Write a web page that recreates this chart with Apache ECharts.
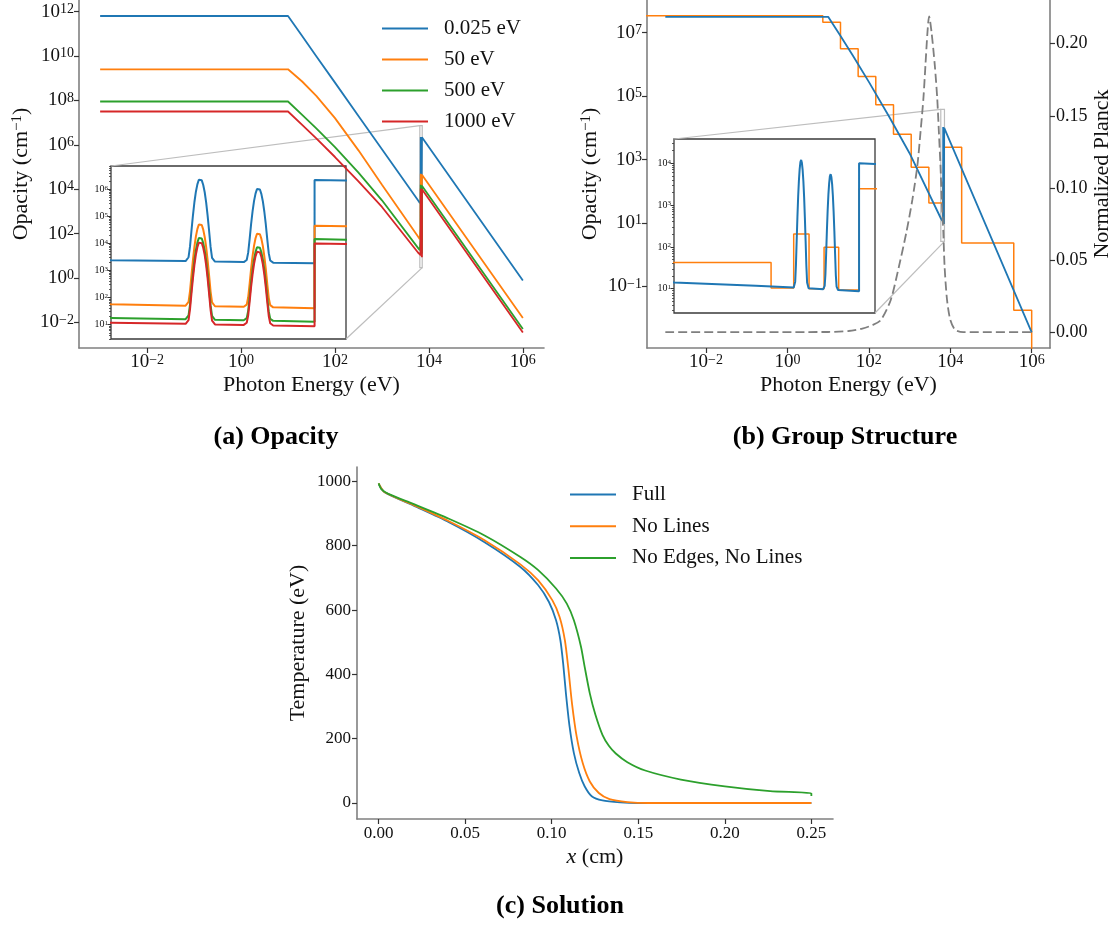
<!DOCTYPE html>
<html>
<head>
<meta charset="utf-8">
<script src="https://cdn.jsdelivr.net/npm/echarts@6/dist/echarts.min.js"></script>
<style>
  html, body { margin: 0; padding: 0; background: #fff; }
  #chart { width: 1116px; height: 926px; }
</style>
</head>
<body>
<div id="chart"></div>
<script>
// ---------------------------------------------------------------------------
// Data
// ---------------------------------------------------------------------------

// Photon energy grid (eV) shared by the four material opacities.
// The dense part around 6.6–7.2 keV resolves the two bound-bound lines
// and the absorption edge.
const energy = [
  0.001, 10, 20, 40, 100, 316, 1000, 5850, 6400,
  6654, 6664, 6669, 6674, 6679, 6684, 6689, 6694, 6699, 6704,
  6709, 6714, 6719, 6724, 6729, 6734, 6739, 6744, 6754,
  6852, 6862, 6867, 6872, 6877, 6882, 6887, 6892, 6897, 6902,
  6907, 6912, 6917, 6922, 6927, 6932, 6937, 6942, 6952,
  7093, 7093, 7200, 1e6
];

// log10 of opacity (cm^-1) at each material temperature
const kappa0025 = [
  11.8, 11.8, 10.9, 9.99, 8.8, 7.3, 5.8, 3.50, 3.38,
  3.35, 3.49, 3.89, 4.48, 5.04, 5.53, 5.91, 6.18, 6.35, 6.40,
  6.33, 6.16, 5.89, 5.51, 5.02, 4.46, 3.87, 3.47, 3.33,
  3.31, 3.39, 3.66, 4.17, 4.72, 5.19, 5.57, 5.84, 6.01, 6.06,
  5.99, 5.82, 5.55, 5.17, 4.70, 4.15, 3.64, 3.37, 3.29,
  3.27, 6.34, 6.32, -0.11
];
const kappa50 = [
  9.4, 9.4, 8.85, 8.2, 7.2, 5.75, 4.2, 1.87, 1.75,
  1.70, 1.84, 2.24, 2.83, 3.39, 3.88, 4.26, 4.53, 4.70, 4.75,
  4.68, 4.51, 4.24, 3.86, 3.37, 2.81, 2.22, 1.82, 1.68,
  1.66, 1.74, 2.01, 2.52, 3.07, 3.54, 3.92, 4.19, 4.36, 4.41,
  4.34, 4.17, 3.90, 3.52, 3.05, 2.50, 1.99, 1.72, 1.64,
  1.61, 4.65, 4.63, -1.80
];
const kappa500 = [
  7.95, 7.95, 7.35, 6.74, 5.9, 4.75, 3.5, 1.36, 1.25,
  1.20, 1.34, 1.74, 2.33, 2.89, 3.38, 3.76, 4.03, 4.20, 4.25,
  4.18, 4.01, 3.74, 3.36, 2.87, 2.31, 1.72, 1.32, 1.18,
  1.16, 1.24, 1.51, 2.02, 2.57, 3.04, 3.42, 3.69, 3.86, 3.91,
  3.84, 3.67, 3.40, 3.02, 2.55, 2.00, 1.49, 1.22, 1.14,
  1.11, 4.16, 4.14, -2.29
];
const kappa1000 = [
  7.5, 7.5, 6.9, 6.29, 5.45, 4.35, 3.2, 1.15, 1.07,
  1.03, 1.17, 1.57, 2.16, 2.72, 3.21, 3.59, 3.86, 4.03, 4.08,
  4.01, 3.84, 3.57, 3.19, 2.70, 2.14, 1.55, 1.15, 1.01,
  0.99, 1.07, 1.34, 1.85, 2.40, 2.87, 3.25, 3.52, 3.69, 3.74,
  3.67, 3.50, 3.23, 2.85, 2.38, 1.83, 1.32, 1.05, 0.97,
  0.94, 4.00, 3.98, -2.45
];

// Multigroup structure: group edges (eV) and log10 group-averaged opacity.
// The first group starts at zero energy and nothing is kept above 1 MeV.
const groupEdges = [1e-5, 7.4, 20.1, 54.6, 148, 403, 1097, 2981, 6502, 6654,
                    6757, 6858, 6956, 7093, 19055, 363078, 1e6];
const groupKappa = [7.53, 7.33, 6.49, 5.62, 4.73, 3.80, 2.76, 1.63, 1.02, 2.31,
                    1.00, 1.99, 0.97, 3.39, 0.37, -1.75];
const zeroOpacityFloor = -5;   // log10 floor used for the empty range above 1 MeV

// Normalized Planck spectrum at 1 keV
const planckE = [0.001, 10, 31.6, 69, 126, 200, 347, 550, 832, 1175, 1549, 1862, 2188, 2455,
                 2754, 3020, 3467, 4169, 4786, 5248, 5754, 6166, 6761, 7244, 8318, 10000,
                 13183, 20893, 1e6];
const planckVal = [0, 0.0001, 0.0008, 0.0025, 0.005, 0.0086, 0.0225, 0.0457, 0.069, 0.092,
                   0.115, 0.139, 0.162, 0.185, 0.208, 0.219, 0.208, 0.185, 0.162, 0.139,
                   0.115, 0.092, 0.069, 0.0457, 0.0225, 0.0086, 0.0016, 0, 0];

// Temperature profiles, x (cm) and T (eV)
const xFull = [0, 0.0035, 0.02, 0.0406, 0.0612, 0.0819, 0.0922, 0.0984, 0.1025, 0.105,
               0.1066, 0.1082, 0.1103, 0.1128, 0.1159, 0.119, 0.1231, 0.1293, 0.1396, 0.15, 0.25];
const tFull = [992, 966, 925, 873, 811, 734, 677, 625, 568, 506,
               434, 341, 238, 155, 93, 52, 21, 8, 2, 0, 0];
const xNoLines = [0, 0.0035, 0.02, 0.0406, 0.0612, 0.0819, 0.0922, 0.1004, 0.1045, 0.1076,
                  0.1097, 0.1117, 0.1144, 0.1179, 0.122, 0.1272, 0.1334, 0.1437, 0.156, 0.25];
const tNoLines = [994, 966, 927, 876, 817, 742, 692, 630, 579, 506,
                  413, 310, 207, 124, 67, 31, 12, 3, 0, 0];
const xNoEdges = [0, 0.0014, 0.0056, 0.02, 0.0406, 0.0612, 0.0819, 0.0922, 0.1025, 0.1087,
                  0.1128, 0.1169, 0.119, 0.122, 0.1252, 0.1293, 0.133, 0.137, 0.1437, 0.154,
                  0.1746, 0.2, 0.2262, 0.25, 0.25];
const tNoEdges = [994, 977, 961, 930, 884, 832, 765, 724, 667, 620,
                  568, 486, 424, 341, 275, 212, 178, 154, 127, 101,
                  73, 52, 37, 30, 22];

// Tick positions
const opacityDecadeTicksA = [-2, 0, 2, 4, 6, 8, 10, 12];
const opacityDecadeTicksB = [-1, 1, 3, 5, 7];
const energyDecadeTicks = [-2, 0, 2, 4, 6];
const insetTicksA = [1, 2, 3, 4, 5, 6];
const insetTicksB = [1, 2, 3, 4];
const planckTicks = [0, 0.05, 0.10, 0.15, 0.20];
const xTicksC = [0, 0.05, 0.10, 0.15, 0.20, 0.25];
const tTicksC = [0, 200, 400, 600, 800, 1000];

// ---------------------------------------------------------------------------
// Styling and layout
// ---------------------------------------------------------------------------
const SERIF = '"Liberation Serif", "Times New Roman", Times, serif';
const INK = '#111';
const SPINE = '#808080';
const COL = {
  blue: '#1f77b4', orange: '#ff7f0e', green: '#2ca02c', red: '#d62728',
  gray: '#7f7f7f', frame: '#3a3a3a', zoom: '#bdbdbd'
};

const L = {
  a:      { left: 79,  top: 0,   width: 465, height: 348 },
  aInset: { left: 111, top: 166, width: 235, height: 173 },
  b:      { left: 647, top: 0,   width: 403, height: 348 },
  bInset: { left: 674, top: 139, width: 201, height: 174 },
  c:      { left: 357, top: 467, width: 476, height: 352 }
};

const R = {
  aX: [-3.45, 6.45], aY: [-3.15, 12.52],
  aInsetX: [6400, 7200], aInsetY: [0.47, 6.86],
  bX: [-3.45, 6.45], bY: [-2.94, 8.03], bY2: [-0.011, 0.2303],
  bInsetX: [5850, 7200], bInsetY: [0.42, 4.58],
  cX: [-0.0125, 0.2625], cY: [-49.75, 1044.75]
};

const expLabel = v => '{b|10}{s|' + (v < 0 ? '\u2212' + (-v) : v) + '}';
const expRich = (base, sup, supLH) => ({
  b: { fontFamily: SERIF, fontSize: base, color: INK },
  s: { fontFamily: SERIF, fontSize: sup, color: INK, verticalAlign: 'top', lineHeight: supLH }
});

function minorLogTicks(lo, hi) {
  const out = [];
  for (let n = Math.floor(lo) - 1; n <= Math.ceil(hi); n++) {
    for (let k = 2; k <= 9; k++) {
      const v = n + Math.log10(k);
      if (v > lo && v < hi) out.push(v);
    }
  }
  return out;
}

const nameStyle = () => ({
  fontFamily: SERIF, fontSize: 22, color: INK,
  rich: {
    s: { fontFamily: SERIF, fontSize: 15, color: INK, verticalAlign: 'top', lineHeight: 10 },
    i: { fontFamily: SERIF, fontSize: 22, color: INK, fontStyle: 'italic' }
  }
});

function spineAxis(opt) {
  return Object.assign({
    type: 'value',
    axisLine: { show: true, onZero: false, lineStyle: { color: SPINE, width: 1.6 } },
    axisTick: { show: true, length: 5, lineStyle: { color: '#333', width: 1.2 } },
    splitLine: { show: false },
    nameLocation: 'middle',
    nameTextStyle: nameStyle()
  }, opt);
}

function logAxis(gridIndex, range, ticks, extra) {
  return spineAxis(Object.assign({
    gridIndex, min: range[0], max: range[1],
    axisTick: { show: true, customValues: ticks, length: 5, lineStyle: { color: '#333', width: 1.2 } },
    axisLabel: { customValues: ticks, formatter: expLabel, rich: expRich(19, 14, 9), margin: 5 }
  }, extra));
}

function insetYAxes(gridIndex, range, ticks) {
  return [
    {
      type: 'value', gridIndex, position: 'left', min: range[0], max: range[1],
      axisLine: { show: false },
      axisTick: { show: true, customValues: ticks, length: 3.5, lineStyle: { color: '#333', width: 1 } },
      axisLabel: { customValues: ticks, formatter: expLabel, rich: expRich(10, 7, 5), margin: 3 },
      splitLine: { show: false }
    },
    {
      type: 'value', gridIndex, position: 'left', min: range[0], max: range[1],
      axisLine: { show: false },
      axisTick: { show: true, customValues: minorLogTicks(range[0], range[1]), length: 2,
                  lineStyle: { color: '#333', width: 0.8 } },
      axisLabel: { show: false },
      splitLine: { show: false }
    }
  ];
}

function hiddenX(gridIndex, range) {
  return { type: 'value', gridIndex, min: range[0], max: range[1], show: false };
}

function line(name, color, data, xAxisIndex, yAxisIndex, extra) {
  return Object.assign({
    type: 'line', name, data, xAxisIndex, yAxisIndex,
    showSymbol: false, symbol: 'none', clip: true, animation: false,
    color, lineStyle: { color, width: 1.8 }
  }, extra);
}

// Opacity curves: log-energy pairs for the main panels, linear energy for the insets
const logPairs = ys => energy.map((e, i) => [Math.log10(e), ys[i]]);
const linPairs = ys => energy.map((e, i) => [e, ys[i]]);

function groupSteps(toX) {
  const pts = groupKappa.map((k, i) => [toX(groupEdges[i]), k]);
  const last = groupEdges[groupEdges.length - 1];
  pts.push([toX(last), groupKappa[groupKappa.length - 1]]);
  pts.push([toX(last), zeroOpacityFloor]);
  return pts;
}

const pairs = (xs, ys) => xs.map((x, i) => [x, ys[i]]);

// Axis indices
const X = { a: 0, aIn: 1, b: 2, bIn: 3, c: 4 };
const Y = { a: 0, aIn: 1, aInMinor: 2, b: 3, bPlanck: 4, bIn: 5, bInMinor: 6, c: 7 };

// ---------------------------------------------------------------------------
// Chart
// ---------------------------------------------------------------------------
const chart = echarts.init(document.getElementById('chart'), null, { renderer: 'canvas' });

const opacitySets = [
  ['0.025 eV', COL.blue, kappa0025],
  ['50 eV', COL.orange, kappa50],
  ['500 eV', COL.green, kappa500],
  ['1000 eV', COL.red, kappa1000]
];

const series = [];
// (a) main
opacitySets.forEach(([n, c, k]) => series.push(line(n, c, logPairs(k), X.a, Y.a)));
// (a) inset
opacitySets.forEach(([n, c, k]) => series.push(line(n, c, linPairs(k), X.aIn, Y.aIn, { z: 5, lineStyle: { color: c, width: 2 } })));
// (b) main
series.push(line('Group opacity', COL.orange, groupSteps(Math.log10), X.b, Y.b, { step: 'end', z: 2, lineStyle: { color: COL.orange, width: 1.5 } }));
series.push(line('Opacity', COL.blue, logPairs(kappa1000), X.b, Y.b, { z: 3 }));
series.push(line('Planck', COL.gray, planckE.map((e, i) => [Math.log10(e), planckVal[i]]), X.b, Y.bPlanck,
  { z: 4, smooth: 0.25, lineStyle: { color: COL.gray, width: 1.8, type: [9, 4] } }));
// (b) inset
series.push(line('Group opacity', COL.orange, groupSteps(e => e), X.bIn, Y.bIn, { step: 'end', z: 5, lineStyle: { color: COL.orange, width: 1.5 } }));
series.push(line('Opacity', COL.blue, linPairs(kappa1000), X.bIn, Y.bIn, { z: 6, lineStyle: { color: COL.blue, width: 2 } }));
// (c)
series.push(line('Full', COL.blue, pairs(xFull, tFull), X.c, Y.c, { smooth: 0.25 }));
series.push(line('No Lines', COL.orange, pairs(xNoLines, tNoLines), X.c, Y.c, { smooth: 0.25 }));
series.push(line('No Edges, No Lines', COL.green, pairs(xNoEdges, tNoEdges), X.c, Y.c, { smooth: 0.25 }));

const legendBase = {
  orient: 'vertical', itemWidth: 46, itemHeight: 2, icon: 'rect', padding: 0,
  selectedMode: false,
  textStyle: { fontFamily: SERIF, fontSize: 21, color: INK, padding: [0, 0, 0, 11] }
};

const titleStyle = { fontFamily: SERIF, fontSize: 26, fontWeight: 'bold', color: '#000' };

const option = {
  animation: false,
  backgroundColor: '#fff',
  title: [
    { text: '(a) Opacity', left: 276, top: 424, textAlign: 'center', padding: 0, textStyle: titleStyle },
    { text: '(b) Group Structure', left: 845, top: 424, textAlign: 'center', padding: 0, textStyle: titleStyle },
    { text: '(c) Solution', left: 560, top: 893, textAlign: 'center', padding: 0, textStyle: titleStyle }
  ],
  legend: [
    Object.assign({}, legendBase, { data: ['0.025 eV', '50 eV', '500 eV', '1000 eV'], left: 382, top: 18, itemGap: 10 }),
    Object.assign({}, legendBase, { data: ['Full', 'No Lines', 'No Edges, No Lines'], left: 570, top: 484, itemGap: 10.7 })
  ],
  grid: [
    Object.assign({}, L.a),
    Object.assign({ show: true, borderColor: COL.frame, borderWidth: 1.3, backgroundColor: '#fff' }, L.aInset),
    Object.assign({}, L.b),
    Object.assign({ show: true, borderColor: COL.frame, borderWidth: 1.3, backgroundColor: '#fff' }, L.bInset),
    Object.assign({}, L.c)
  ],
  xAxis: [
    logAxis(0, R.aX, energyDecadeTicks, { name: 'Photon Energy (eV)', nameGap: 26 }),
    hiddenX(1, R.aInsetX),
    logAxis(2, R.bX, energyDecadeTicks, { name: 'Photon Energy (eV)', nameGap: 26 }),
    hiddenX(3, R.bInsetX),
    spineAxis({
      gridIndex: 4, min: R.cX[0], max: R.cX[1],
      axisTick: { show: true, customValues: xTicksC, length: 5, lineStyle: { color: '#333', width: 1.2 } },
      axisLabel: { customValues: xTicksC, formatter: v => v.toFixed(2), fontFamily: SERIF, fontSize: 17, color: INK, margin: 6 },
      name: '{i|x} (cm)', nameGap: 27
    })
  ],
  yAxis: [
    logAxis(0, R.aY, opacityDecadeTicksA, { name: 'Opacity (cm{s|\u22121})', nameGap: 47 }),
    ...insetYAxes(1, R.aInsetY, insetTicksA),
    logAxis(2, R.bY, opacityDecadeTicksB, { name: 'Opacity (cm{s|\u22121})', nameGap: 46 }),
    spineAxis({
      gridIndex: 2, position: 'right', min: R.bY2[0], max: R.bY2[1],
      axisTick: { show: true, customValues: planckTicks, length: 5, lineStyle: { color: '#333', width: 1.2 } },
      axisLabel: { customValues: planckTicks, formatter: v => v.toFixed(2), fontFamily: SERIF, fontSize: 18, color: INK, margin: 6 },
      name: 'Normalized Planck', nameGap: 38
    }),
    ...insetYAxes(3, R.bInsetY, insetTicksB),
    spineAxis({
      gridIndex: 4, min: R.cY[0], max: R.cY[1],
      axisTick: { show: true, customValues: tTicksC, length: 5, lineStyle: { color: '#333', width: 1.2 } },
      axisLabel: { customValues: tTicksC, formatter: v => String(v), fontFamily: SERIF, fontSize: 17, color: INK, margin: 6 },
      name: 'Temperature (eV)', nameGap: 48
    })
  ],
  series
};

chart.setOption(option);

// Zoom indicators: outline of the inset window in the main axes and the two
// connector lines to the inset frame.
function zoomIndicator(xAxisIndex, yAxisIndex, xr, yr, box) {
  const tl = chart.convertToPixel({ xAxisIndex, yAxisIndex }, [Math.log10(xr[0]), yr[1]]);
  const br = chart.convertToPixel({ xAxisIndex, yAxisIndex }, [Math.log10(xr[1]), yr[0]]);
  const st = { stroke: COL.zoom, lineWidth: 1.2, fill: null };
  return [
    { type: 'rect', z: 1, silent: true, shape: { x: tl[0], y: tl[1], width: br[0] - tl[0], height: br[1] - tl[1] }, style: st },
    { type: 'line', z: 1, silent: true, shape: { x1: tl[0], y1: tl[1], x2: box.left, y2: box.top }, style: st },
    { type: 'line', z: 1, silent: true, shape: { x1: br[0], y1: br[1], x2: box.left + box.width, y2: box.top + box.height }, style: st }
  ];
}

chart.setOption({
  graphic: [
    ...zoomIndicator(X.a, Y.a, R.aInsetX, R.aInsetY, L.aInset),
    ...zoomIndicator(X.b, Y.b, R.bInsetX, R.bInsetY, L.bInset)
  ]
});
</script>
</body>
</html>
